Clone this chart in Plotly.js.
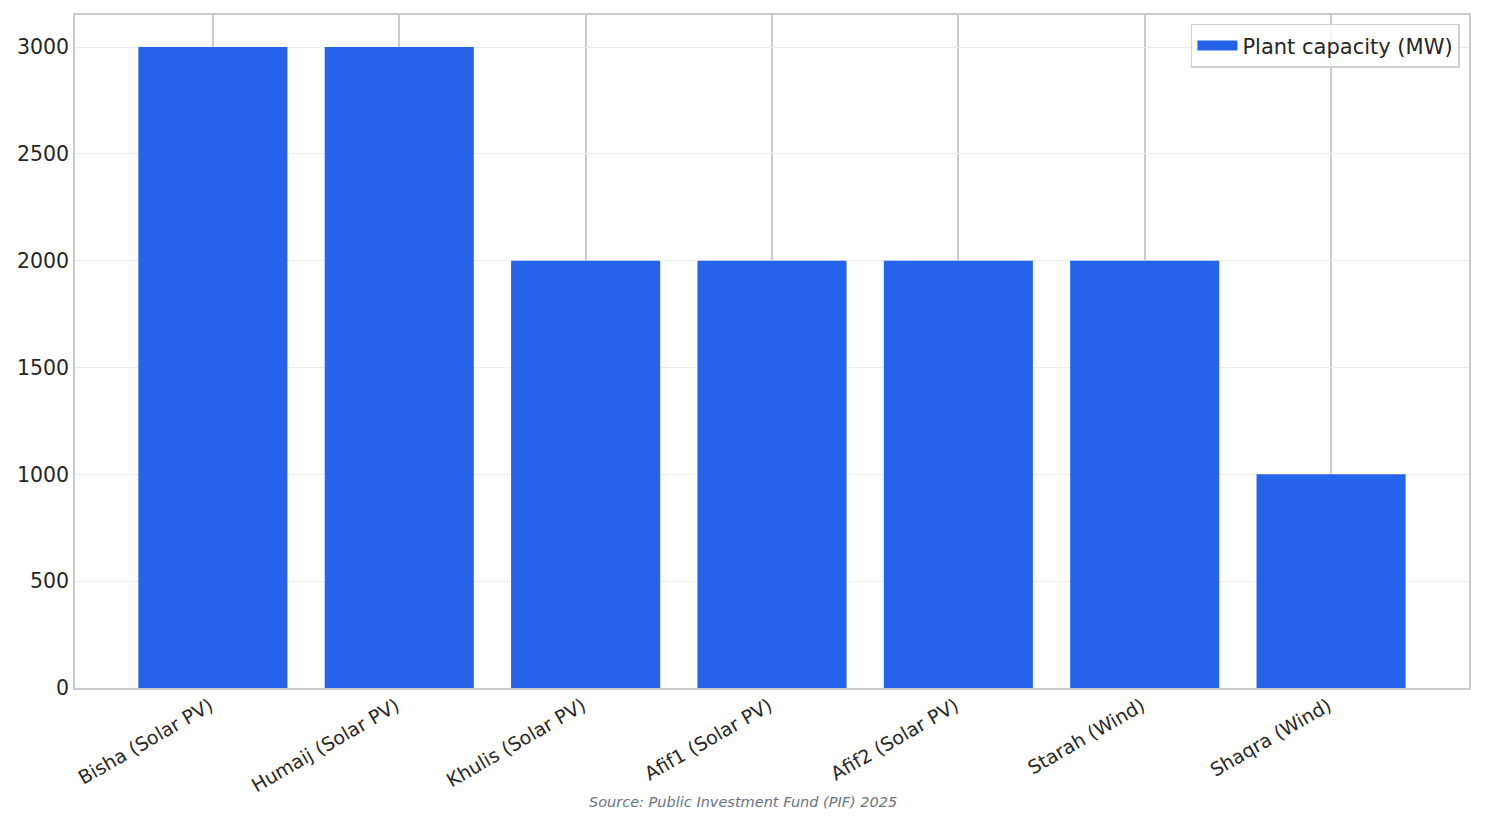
<!DOCTYPE html>
<html>
<head>
<meta charset="utf-8">
<script src="https://cdn.plot.ly/plotly-3.0.1.min.js"></script>
<style>
  html, body { margin: 0; padding: 0; background: #fff; }
  #graph { width: 1485px; height: 824px; }
</style>
</head>
<body>
<div id="graph"></div>
<script>
var plants = ['Bisha (Solar PV)', 'Humaij (Solar PV)', 'Khulis (Solar PV)', 'Afif1 (Solar PV)', 'Afif2 (Solar PV)', 'Starah (Wind)', 'Shaqra (Wind)'];
var capacity = [3000, 3000, 2000, 2000, 2000, 2000, 1000];
var seriesName = 'Plant capacity (MW)';
var sourceText = 'Source: Public Investment Fund (PIF) 2025';

var graph = document.getElementById('graph');
var font = 'DejaVu Sans, sans-serif';
var barColor = '#2563eb';

Plotly.newPlot(graph,
    [
        {
            x: plants,
            y: capacity,
            type: 'bar',
            name: seriesName,
            width: 0.8,
            showlegend: false,
            marker: { color: barColor, line: { width: 0 } }
        },
        // legend proxy so the key is a wide patch like the original
        {
            x: [plants[0]],
            y: [null],
            type: 'scatter',
            mode: 'lines',
            name: seriesName,
            hoverinfo: 'skip',
            line: { color: barColor, width: 14 }
        }
    ],
    {
        width: 1485,
        height: 824,
        margin: { l: 75, r: 16, t: 15, b: 136 },
        paper_bgcolor: '#ffffff',
        plot_bgcolor: '#ffffff',
        font: { family: font, color: '#262626' },
        showlegend: true,
        legend: {
            x: 0.9935, y: 0.987, xanchor: 'right', yanchor: 'top',
            bordercolor: '#d0d0d0', borderwidth: 1.5, bgcolor: 'rgba(255,255,255,0.8)',
            itemwidth: 40,
            font: { size: 21, family: font, color: '#262626' }
        },
        xaxis: {
            range: [-0.74, 6.74],
            tickangle: -30,
            tickfont: { size: 19, family: font, color: '#262626' },
            ticklabelshift: -3,
            ticklabelstandoff: -2,
            showgrid: true, gridcolor: '#cccccc', gridwidth: 1.5,
            showline: true, linecolor: '#cccccc', linewidth: 1.5, mirror: true,
            ticks: '', zeroline: false
        },
        yaxis: {
            range: [0, 3150],
            tickvals: [0, 500, 1000, 1500, 2000, 2500, 3000],
            tickfont: { size: 20.5, family: font, color: '#262626' },
            showgrid: true, gridcolor: '#ececec', gridwidth: 1,
            showline: true, linecolor: '#cccccc', linewidth: 1.5, mirror: true,
            ticks: '', zeroline: false
        },
        annotations: [
            {
                text: sourceText,
                xref: 'paper', yref: 'paper',
                x: 0.479, y: -0.169, xanchor: 'center', yanchor: 'middle',
                showarrow: false,
                font: { size: 14.5, family: font, color: '#6b7280', style: 'italic' }
            }
        ]
    },
    { displayModeBar: false }
);
</script>
</body>
</html>
